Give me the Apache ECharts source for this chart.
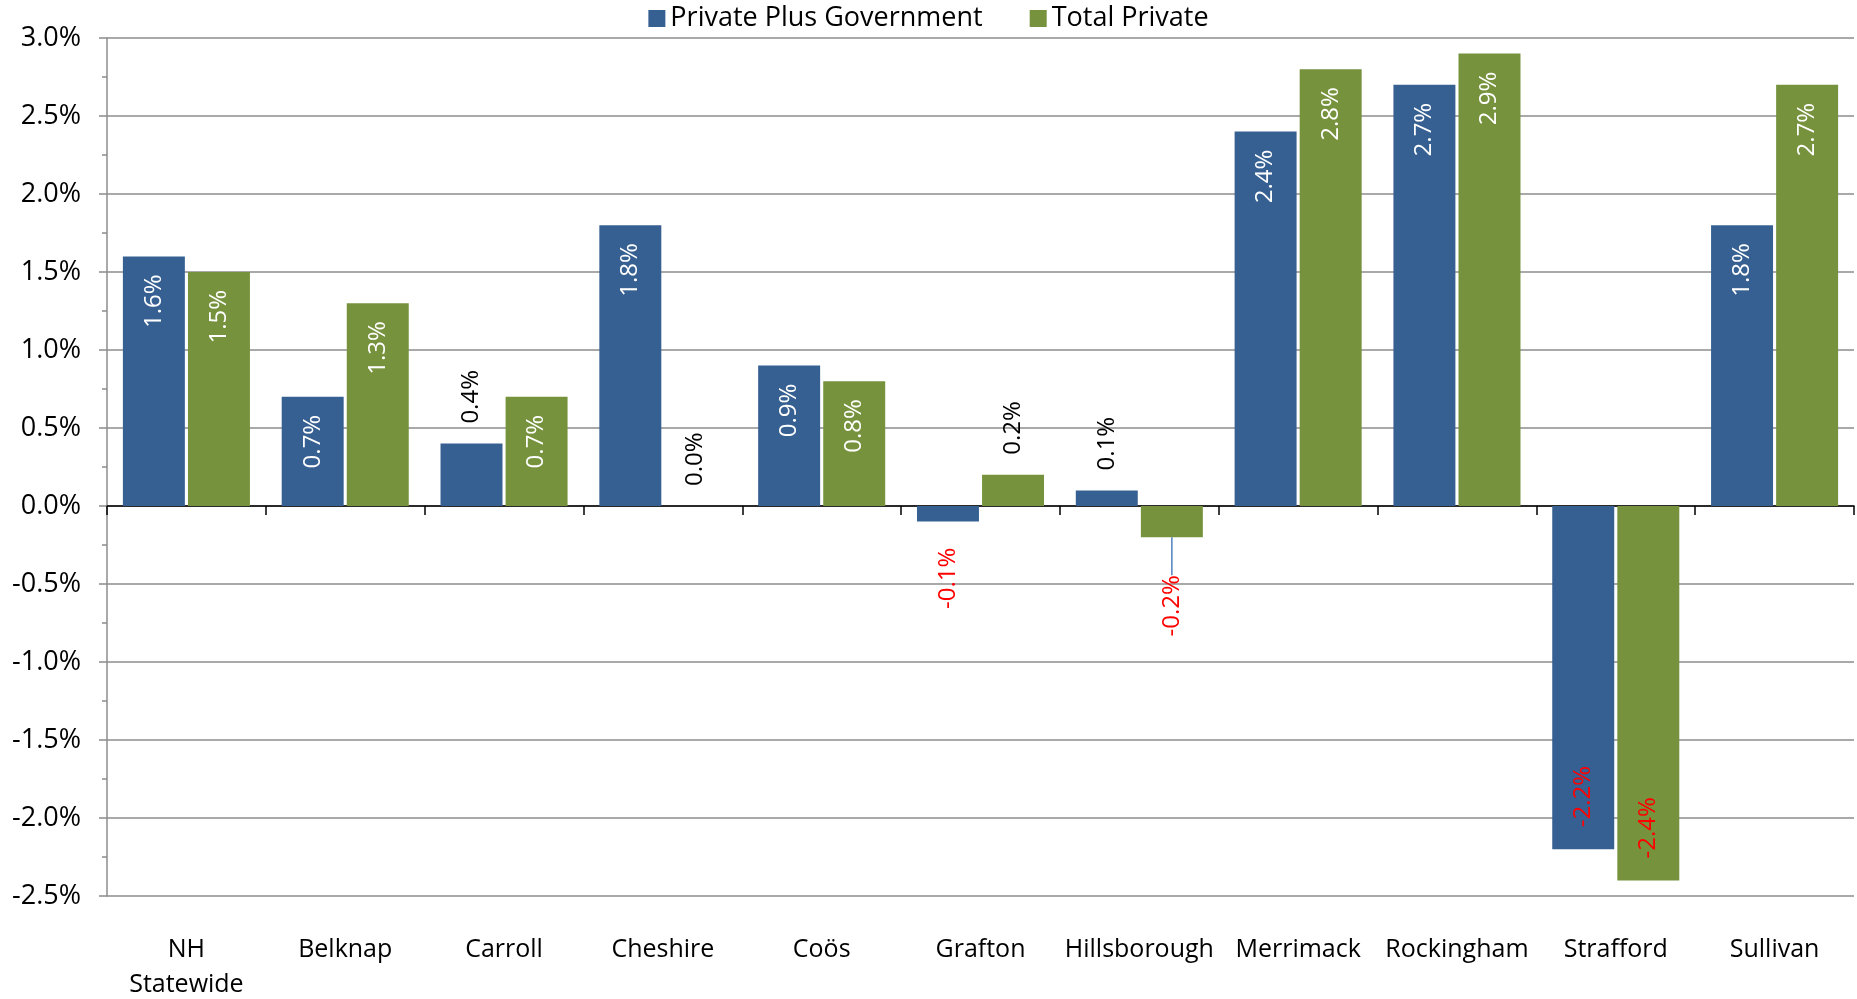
<!DOCTYPE html>
<html>
<head>
<meta charset="utf-8">
<script src="https://cdn.jsdelivr.net/npm/echarts@6/dist/echarts.min.js"></script>
<style>
  html, body { margin: 0; padding: 0; background: #fff; }
  #chart { width: 1857px; height: 999px; }
</style>
</head>
<body>
<div id="chart"></div>
<script>
const categories = ['NH\nStatewide', 'Belknap', 'Carroll', 'Cheshire', 'Coös', 'Grafton', 'Hillsborough', 'Merrimack', 'Rockingham', 'Strafford', 'Sullivan']
const privatePlusGov = [1.6, 0.7, 0.4, 1.8, 0.9, -0.1, 0.1, 2.4, 2.7, -2.2, 1.8]
const totalPrivate = [1.5, 1.3, 0.7, 0.0, 0.8, 0.2, -0.2, 2.8, 2.9, -2.4, 2.7]
const seriesNames = ['Private Plus Government', 'Total Private']
const colors = ['#366092', '#76923C']

const FONT = '"Open Sans", "Noto Sans", sans-serif'

// label placement depends on the value: inside for tall bars, outside for short ones
function labelFor (v) {
  const big = Math.abs(v) >= 0.5
  let cfg
  if (v >= 0) {
    cfg = big
      ? { position: 'insideTop', align: 'right', color: '#fff', distance: 18 }
      : { position: 'top', align: 'left', color: '#000', distance: 20 }
  } else {
    cfg = big
      ? { position: 'insideBottom', align: 'left', color: '#ff0000', distance: 22 }
      : { position: 'bottom', align: 'right', color: '#ff0000', distance: 26 }
  }
  return Object.assign({ show: true, rotate: 90, verticalAlign: 'middle', fontSize: 24, fontFamily: FONT }, cfg)
}

// movedLabel: index of the label that was dragged down with a leader line
function buildData (values, movedLabel) {
  return values.map((v, i) => {
    const item = { value: v, label: labelFor(v) }
    if (i === movedLabel) {
      item.labelLine = { show: true, lineStyle: { color: '#4F81BD', width: 1.5 } }
    }
    return item
  })
}

const chart = echarts.init(document.getElementById('chart'))

const option = {
  animation: false,
  color: colors,
  legend: {
    top: 0,
    left: 'center',
    icon: 'rect',
    itemWidth: 17,
    itemHeight: 17,
    itemGap: 47,
    textStyle: { fontSize: 27, color: '#000', fontFamily: FONT },
    data: seriesNames
  },
  grid: {
    left: 107,
    right: 3,
    top: 38,
    bottom: 103,
    containLabel: false,
    outerBoundsMode: 'none'
  },
  xAxis: [
    {
      type: 'category',
      data: categories,
      position: 'bottom',
      axisLine: { show: false, onZero: false },
      axisTick: { show: false },
      axisLabel: {
        interval: 0,
        margin: 36,
        fontSize: 25,
        lineHeight: 35,
        color: '#000',
        fontFamily: FONT
      }
    },
    {
      // zero line with category boundary ticks
      type: 'category',
      data: categories,
      position: 'bottom',
      axisLine: { show: true, onZero: true, lineStyle: { color: '#000', width: 1.5 } },
      axisTick: { show: true, interval: 0, length: 9, lineStyle: { color: '#000', width: 1.5 } },
      axisLabel: { show: false }
    }
  ],
  yAxis: {
    type: 'value',
    min: -2.5,
    max: 3,
    interval: 0.5,
    axisLine: { show: true, lineStyle: { color: '#8c8c8c', width: 1.5 } },
    axisTick: { show: true, length: 8, lineStyle: { color: '#8c8c8c', width: 1.5 } },
    minorTick: { show: true, splitNumber: 2, length: 5, lineStyle: { color: '#8c8c8c', width: 1.5 } },
    splitLine: { show: true, lineStyle: { color: '#8c8c8c', width: 1.5 } },
    axisLabel: {
      margin: 26,
      fontSize: 27,
      color: '#000',
      fontFamily: FONT,
      formatter: v => v.toFixed(1) + '%'
    }
  },
  series: [
    {
      name: seriesNames[0],
      type: 'bar',
      xAxisIndex: 0,
      data: buildData(privatePlusGov, -1),
      barGap: '5%',
      barCategoryGap: '20%',
      label: { formatter: p => p.value.toFixed(1) + '%' }
    },
    {
      name: seriesNames[1],
      type: 'bar',
      xAxisIndex: 0,
      data: buildData(totalPrivate, 6),
      barGap: '5%',
      barCategoryGap: '20%',
      label: { formatter: p => p.value.toFixed(1) + '%' },
      labelLine: { show: false },
      // label is rotated, so its local x runs upward: negative dx pushes it down
      labelLayout: p => (p.dataIndex === 6 ? { dx: -12 } : {})
    }
  ]
}

chart.setOption(option)
</script>
</body>
</html>
